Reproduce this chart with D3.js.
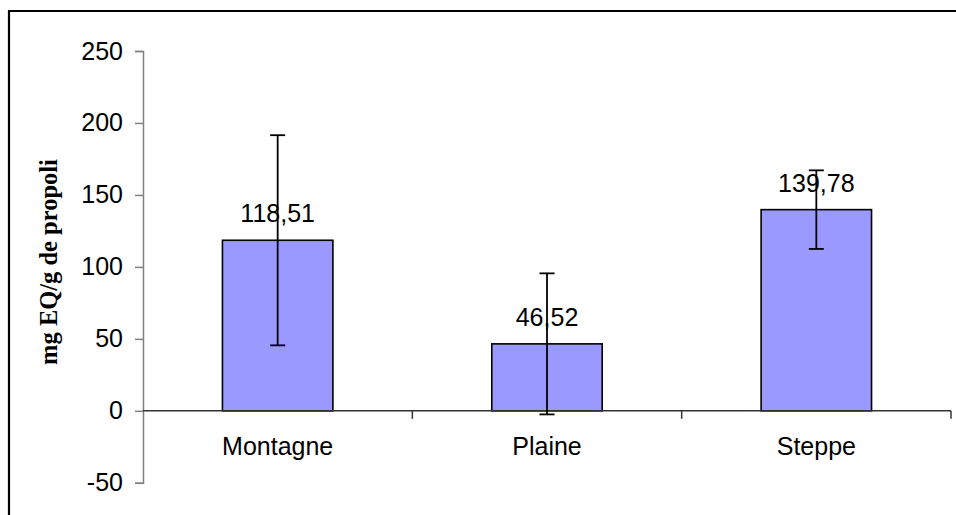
<!DOCTYPE html>
<html>
<head>
<meta charset="utf-8">
<script src="https://cdn.jsdelivr.net/npm/d3@7"></script>
<style>
  html, body { margin: 0; padding: 0; background: #fff; overflow: hidden; }
  svg { display: block; }
</style>
</head>
<body>
<svg id="chart" width="956" height="515"></svg>
<script>
// Flavonoid content by region (mg EQ/g de propoli)
const categories = ["Montagne", "Plaine", "Steppe"];
const values = [118.51, 46.52, 139.78];
const errors = [73, 49, 27.3];
const valueLabels = ["118,51", "46,52", "139,78"];
const yTicks = [-50, 0, 50, 100, 150, 200, 250];
const yTitle = "mg EQ/g de propoli";

const svg = d3.select("#chart");
const plotLeft = 143, plotRight = 951, plotTop = 51, plotBottom = 482.8;

const x = d3.scaleBand()
  .domain(categories)
  .range([plotLeft, plotRight])
  .paddingInner(0.59)
  .paddingOuter(0.295);

const y = d3.scaleLinear().domain([-50, 250]).range([plotBottom, plotTop]);

// outer frame: only left and top edges fall inside the view
svg.append("path")
  .attr("d", "M9,515 V11 H956")
  .attr("fill", "none").attr("stroke", "#000").attr("stroke-width", 2.2);

const sans = "'Liberation Sans', Arial, sans-serif";
const fontSize = 25;

// y axis
const yAxis = svg.append("g")
  .attr("transform", `translate(${plotLeft},0)`)
  .call(d3.axisLeft(y).tickValues(yTicks).tickSizeOuter(0).tickSize(8).tickPadding(12).tickFormat(d => String(d)));
yAxis.select(".domain").attr("stroke", "#808080").attr("stroke-width", 1.5);
yAxis.selectAll(".tick line").attr("stroke", "#808080").attr("stroke-width", 1.5);
yAxis.selectAll(".tick text")
  .attr("font-family", sans).attr("font-size", fontSize).attr("fill", "#000");

// bars
svg.append("g").selectAll("rect")
  .data(categories)
  .join("rect")
  .attr("x", d => x(d))
  .attr("y", (d, i) => y(values[i]))
  .attr("width", x.bandwidth())
  .attr("height", (d, i) => y(0) - y(values[i]))
  .attr("fill", "#9999FF")
  .attr("stroke", "#000")
  .attr("stroke-width", 1.6);

// x axis at zero, with tick marks between categories
const xb = svg.append("g").attr("transform", `translate(0,${y(0)})`);
xb.append("line")
  .attr("x1", plotLeft).attr("x2", plotRight)
  .attr("stroke", "#333").attr("stroke-width", 1.5);
const step = x.step();
xb.selectAll("line.sep")
  .data(d3.range(1, categories.length + 1))
  .join("line")
  .attr("class", "sep")
  .attr("x1", i => plotLeft + i * step).attr("x2", i => plotLeft + i * step)
  .attr("y1", 0).attr("y2", 8)
  .attr("stroke", "#333").attr("stroke-width", 1.5);

// category labels
svg.append("g").selectAll("text")
  .data(categories)
  .join("text")
  .attr("x", d => x(d) + x.bandwidth() / 2)
  .attr("y", 455)
  .attr("text-anchor", "middle")
  .attr("font-family", sans).attr("font-size", fontSize)
  .text(d => d);

// value labels
svg.append("g").selectAll("text")
  .data(categories)
  .join("text")
  .attr("x", d => x(d) + x.bandwidth() / 2)
  .attr("y", (d, i) => y(values[i]) - 18)
  .attr("text-anchor", "middle")
  .attr("font-family", sans).attr("font-size", fontSize)
  .text((d, i) => valueLabels[i]);

// error bars
const eb = svg.append("g").attr("stroke", "#000").attr("stroke-width", 1.8);
categories.forEach((c, i) => {
  const cx = x(c) + x.bandwidth() / 2;
  const hi = y(values[i] + errors[i]), lo = y(values[i] - errors[i]);
  eb.append("line").attr("x1", cx).attr("x2", cx).attr("y1", hi).attr("y2", lo);
  eb.append("line").attr("x1", cx - 7.5).attr("x2", cx + 7.5).attr("y1", hi).attr("y2", hi);
  eb.append("line").attr("x1", cx - 7.5).attr("x2", cx + 7.5).attr("y1", lo).attr("y2", lo);
});

// y title
svg.append("text")
  .attr("transform", "translate(57,262) rotate(-90)")
  .attr("text-anchor", "middle")
  .attr("font-family", "'Liberation Serif', 'Times New Roman', serif")
  .attr("font-weight", "bold")
  .attr("font-size", 24.5)
  .text(yTitle);
</script>
</body>
</html>
